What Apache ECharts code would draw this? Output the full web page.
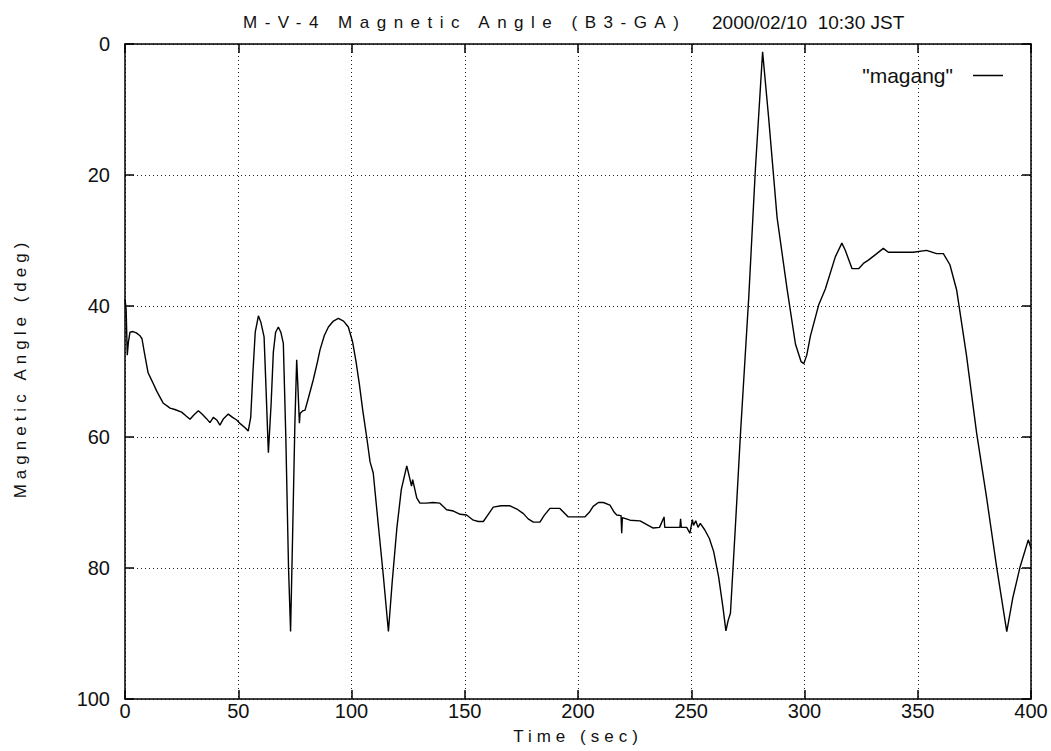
<!DOCTYPE html>
<html>
<head>
<meta charset="utf-8">
<script src="https://cdn.jsdelivr.net/npm/echarts@6/dist/echarts.min.js"></script>
<style>
  html, body { margin: 0; padding: 0; background: #fff; }
  #chart { width: 1051px; height: 751px; }
</style>
</head>
<body>
<div id="chart"></div>
<script>
// ---- data ----
const titleMain = 'M-V-4 Magnetic Angle (B3-GA)';
const titleDate = '2000/02/10  10:30 JST';
const xName = 'Time (sec)';
const yName = 'Magnetic Angle (deg)';
const seriesName = '"magang"';

const time = [
  0, 0.5, 1.0, 1.5, 2.2, 3.5, 5.0, 6.5, 7.5, 8.5, 10.2, 12, 14, 16.8, 19.9, 22, 25, 27, 28.7, 30.5,
  32.4, 34, 36, 37.5, 39, 40.5, 41.9, 43.5, 45.6, 47.5, 49.3, 51, 53, 54.4, 55.5, 56.5, 57.5, 58.9, 60, 61.4,
  62.2, 63.3, 64.5, 65.5, 66.5, 67.7, 68.8, 69.9, 71, 72.2, 73.1, 74, 75, 75.8, 76.3, 77.0, 77.3, 78.5, 79.5, 81,
  83.1, 85, 86.1, 88, 89.8, 92, 94.2, 96.5, 98.6, 100.5, 102, 103.5, 105, 106.7, 108.2, 109.6, 112, 114, 116.3, 118,
  120, 122, 124.4, 125.5, 126.5, 127, 128.8, 130.2, 133, 136, 139, 142, 145, 148, 150.8, 153.8, 156, 158.2, 160, 162.6,
  166, 170, 173, 175.9, 178, 180.3, 183.2, 185, 187.6, 192, 195.7, 203, 205, 206.7, 209, 211.2, 214.1, 216, 217.1, 219.0,
  219.3, 219.6, 223, 227.4, 230, 233.2, 236, 238, 238.3, 242.1, 245, 245.3, 245.6, 248, 249.4, 250.5, 251, 252, 253, 254,
  256, 258, 259.9, 262.1, 264, 265.3, 266.3, 267.3, 269.5, 271.7, 275.4, 278.3, 281.5, 284.2, 287.9, 292.3, 296, 298.5, 299.7, 301,
  302.6, 306.3, 309.2, 313.6, 316.5, 318, 321, 323.9, 326, 328.2, 331.9, 334.8, 337, 339.2, 348, 353.9, 358.3, 361.3, 364.2, 367.2,
  371.5, 376, 380.5, 384.8, 389.3, 392, 395.2, 398.8, 400
];
const angle = [
  39.0, 40.5, 47.5, 45.5, 44.0, 43.9, 44.1, 44.5, 45.0, 47.0, 50.2, 51.5, 53.0, 54.8, 55.6, 55.8, 56.2, 56.8, 57.3, 56.6,
  56.0, 56.5, 57.2, 57.8, 57.0, 57.4, 58.2, 57.2, 56.5, 57.0, 57.4, 58.0, 58.6, 59.1, 57.0, 50.0, 44.0, 41.5, 42.5, 44.7,
  52.0, 62.4, 55.0, 47.0, 44.0, 43.2, 44.0, 45.7, 60.0, 80.0, 89.7, 75.0, 58.0, 48.2, 52.0, 57.9, 56.4, 56.0, 55.9, 54.0,
  51.3, 48.5, 46.7, 44.5, 43.2, 42.3, 41.9, 42.3, 43.2, 45.5, 48.5, 52.0, 56.0, 60.0, 63.8, 65.5, 74.0, 81.0, 89.7, 82.0,
  74.0, 68.0, 64.4, 66.0, 67.5, 66.5, 69.3, 70.1, 70.1, 70.0, 70.1, 71.1, 71.3, 71.8, 71.9, 72.7, 72.9, 72.9, 72.0, 70.7,
  70.5, 70.5, 71.0, 71.7, 72.5, 73.0, 73.0, 72.0, 70.9, 70.9, 72.2, 72.2, 71.5, 70.6, 70.0, 70.0, 70.4, 71.5, 71.9, 72.0,
  74.7, 72.3, 72.7, 72.8, 73.3, 73.9, 73.8, 72.2, 73.8, 73.8, 73.8, 72.5, 73.8, 73.8, 74.7, 72.6, 73.5, 72.8, 73.8, 73.2,
  74.2, 75.5, 77.5, 81.4, 86.0, 89.6, 88.0, 86.9, 73.6, 59.7, 38.6, 19.2, 1.2, 11.4, 26.5, 37.4, 45.8, 48.5, 48.8, 47.5,
  44.6, 39.8, 37.4, 32.5, 30.4, 31.5, 34.3, 34.3, 33.5, 33.0, 32.0, 31.2, 31.8, 31.8, 31.8, 31.5, 32.0, 32.0, 33.7, 37.6,
  47.5, 59.4, 69.5, 79.8, 89.7, 84.5, 79.8, 75.7, 77.0
];

// ---- chart ----
const FONT = '"Liberation Sans", Arial, Helvetica, sans-serif';
const INK = '#111';
const SPACED = {};
SPACED[titleMain] = 7.5;
SPACED[xName] = 5;
SPACED[yName] = 5;

const chart = echarts.init(document.getElementById('chart'), null, { renderer: 'svg' });

const gridLine = { show: true, lineStyle: { color: '#222', width: 1, type: [1, 3] } };
const frameLine = { show: true, onZero: false, lineStyle: { color: '#000', width: 1.5 } };
const innerTick = { show: true, inside: true, length: 9, lineStyle: { color: '#000', width: 1.5 } };

const option = {
  animation: false,
  backgroundColor: '#fff',
  grid: { left: 125, right: 20, top: 44, bottom: 52, containLabel: false },
  legend: {
    data: [seriesName],
    right: 43,
    top: 60,
    align: 'right',
    icon: 'rect',
    itemWidth: 30,
    itemHeight: 1.5,
    textStyle: { fontFamily: FONT, fontSize: 21, color: INK, padding: [0, 15, 0, 0] }
  },
  xAxis: [
    {
      type: 'value', min: 0, max: 400, interval: 50, position: 'bottom',
      axisLine: frameLine, axisTick: innerTick, splitLine: gridLine,
      axisLabel: { margin: 2, fontFamily: FONT, fontSize: 20, color: INK }
    },
    {
      type: 'value', min: 0, max: 400, interval: 50, position: 'top',
      axisLine: frameLine, axisTick: innerTick, splitLine: { show: false },
      axisLabel: { show: false }
    }
  ],
  yAxis: [
    {
      type: 'value', min: 0, max: 100, interval: 20, inverse: true, position: 'left',
      axisLine: frameLine, axisTick: innerTick, splitLine: gridLine,
      axisLabel: { margin: 15, fontFamily: FONT, fontSize: 20, color: INK }
    },
    {
      type: 'value', min: 0, max: 100, interval: 20, inverse: true, position: 'right',
      axisLine: frameLine, axisTick: innerTick, splitLine: { show: false },
      axisLabel: { show: false }
    }
  ],
  series: [
    {
      name: seriesName,
      type: 'line',
      xAxisIndex: 0, yAxisIndex: 0,
      data: time.map((t, i) => [t, angle[i]]),
      showSymbol: false, symbol: 'none',
      lineStyle: { color: '#000', width: 1.4 },
      itemStyle: { color: '#000' },
      emphasis: { disabled: true }
    }
  ],
  graphic: [
    { type: 'text', left: 243, top: 14, style: { text: titleMain, font: '17px ' + FONT, fill: INK } },
    { type: 'text', left: 712, top: 13, style: { text: titleDate, font: '19px ' + FONT, fill: INK } },
    { type: 'text', x: 578, y: 736, style: { text: xName, font: '17px ' + FONT, fill: INK, align: 'center', verticalAlign: 'middle' } },
    { type: 'text', x: 20, y: 368, rotation: Math.PI / 2, style: { text: yName, font: '17px ' + FONT, fill: INK, align: 'center', verticalAlign: 'middle' } }
  ]
};

chart.setOption(option);

function spaceOut() {
  document.querySelectorAll('#chart text').forEach(function (t) {
    const s = t.textContent;
    if (Object.prototype.hasOwnProperty.call(SPACED, s)) {
      t.style.letterSpacing = SPACED[s] + 'px';
    }
  });
}
chart.on('finished', spaceOut);
spaceOut();
setTimeout(spaceOut, 50);
</script>
</body>
</html>
